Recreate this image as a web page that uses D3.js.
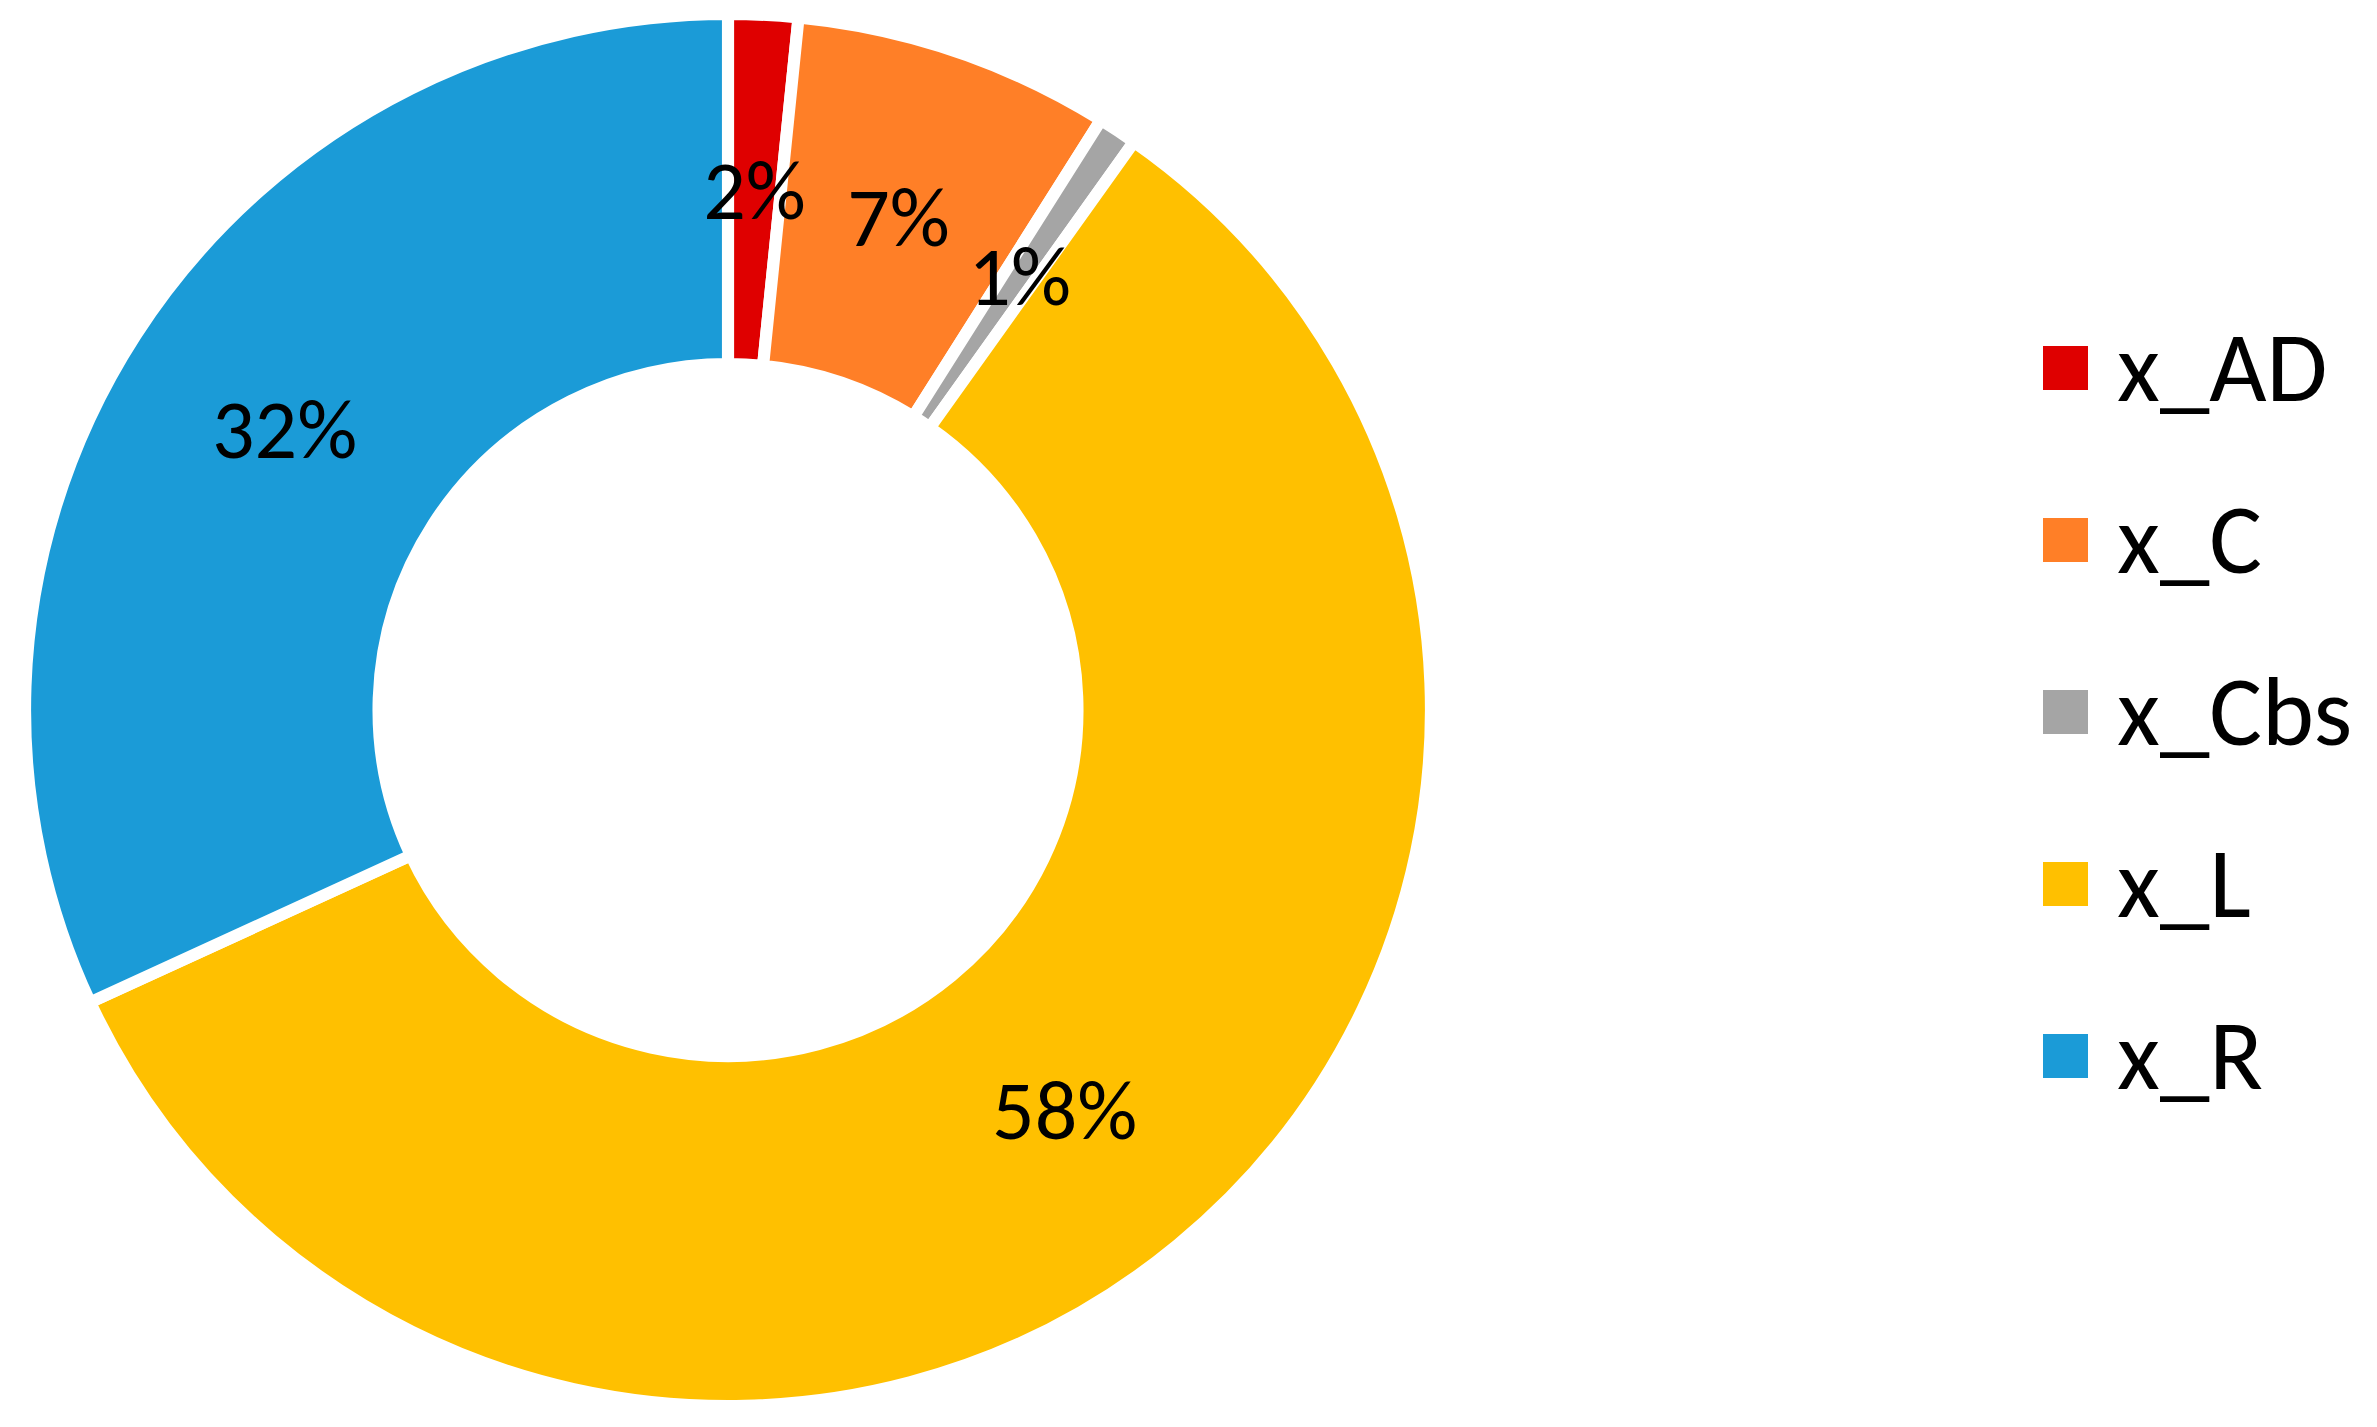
<!DOCTYPE html>
<html>
<head>
<meta charset="utf-8">
<script src="https://cdn.jsdelivr.net/npm/d3@7"></script>
<style>
  html, body { margin: 0; padding: 0; background: #fff; }
  svg { display: block; }
</style>
</head>
<body>
<script>
// chart data (shares in %)
var categories = ["x_AD", "x_C", "x_Cbs", "x_L", "x_R"];
var shares = [1.6, 7.3, 0.9, 58.3, 31.9];
var labels = ["2%", "7%", "1%", "58%", "32%"];
var colours = ["#DF0000", "#FF7F27", "#A5A5A5", "#FFC000", "#1B9BD7"];

var W = 2377, H = 1427;
var cx = 728, cy = 710;
var sx = 1.01; // picture is a tiny bit wider than tall
var outerR = 696, innerR = 346, gap = 12;
var fontFam = "Carlito, Calibri, Lato, sans-serif";

var svg = d3.select("body").append("svg").attr("width", W).attr("height", H);

var colour = d3.scaleOrdinal().domain(categories).range(colours);

var pie = d3.pie().sort(null).value(function(d){ return d.v; });
var data = categories.map(function(c, i){ return { name: c, v: shares[i], label: labels[i] }; });
var arcs = pie(data);

var arcGen = d3.arc().innerRadius(innerR).outerRadius(outerR);
var midR = (outerR - gap/2 + innerR + gap/2) / 2;
var labelArc = d3.arc().innerRadius(midR).outerRadius(midR);

var ring = svg.append("g").attr("transform", "translate(" + cx + "," + cy + ") scale(" + sx + ",1)");
ring.selectAll("path.slice").data(arcs).enter().append("path")
  .attr("class", "slice")
  .attr("d", arcGen)
  .attr("fill", function(d){ return colour(d.data.name); })
  .attr("stroke", "#fff")
  .attr("stroke-width", gap)
  .attr("stroke-linejoin", "miter");

// percentage labels at the middle of each slice
var lab = svg.append("g").attr("transform", "translate(" + cx + "," + cy + ")");
lab.selectAll("text").data(arcs).enter().append("text")
  .attr("x", function(d){ return labelArc.centroid(d)[0] * sx; })
  .attr("y", function(d){ return labelArc.centroid(d)[1] + 29; })
  .attr("text-anchor", "middle")
  .style("font-family", fontFam)
  .style("font-size", "84px")
  .style("fill", "#000")
  .text(function(d){ return d.data.label; });

// legend
var legY = d3.scalePoint().domain(categories).range([368, 1056]);
var leg = svg.append("g");
var row = leg.selectAll("g").data(categories).enter().append("g")
  .attr("transform", function(d){ return "translate(2043," + legY(d) + ")"; });
row.append("rect")
  .attr("x", 0).attr("y", -22).attr("width", 45).attr("height", 44)
  .attr("fill", function(d){ return colour(d); });
row.append("text")
  .attr("x", 74).attr("y", 33)
  .style("font-family", fontFam)
  .style("font-size", "99px")
  .style("fill", "#000")
  .text(function(d){ return d; });
</script>
</body>
</html>
